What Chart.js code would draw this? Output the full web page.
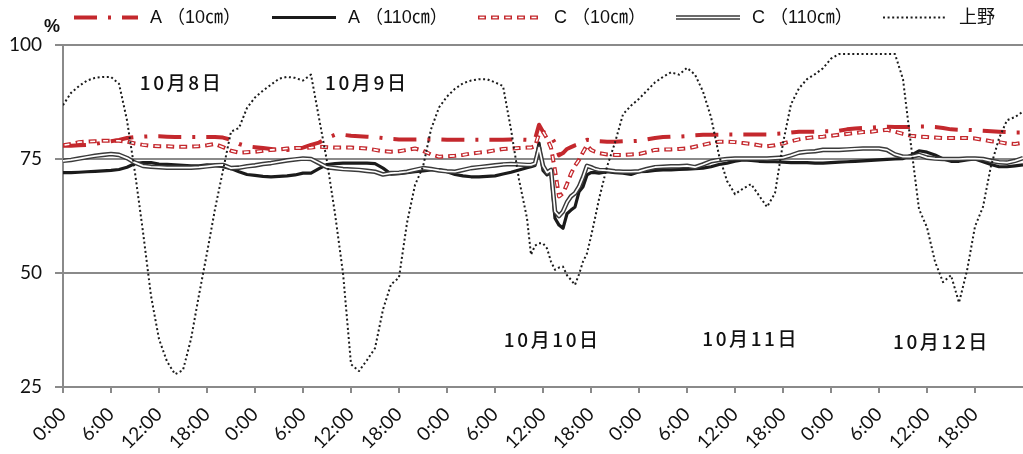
<!DOCTYPE html>
<html>
<head>
<meta charset="utf-8">
<script src="https://cdn.jsdelivr.net/npm/chart.js@4.4.1/dist/chart.umd.min.js"></script>
<style>
  html, body { margin: 0; padding: 0; background: #ffffff; }
  #wrap { width: 1023px; height: 454px; position: relative; }
</style>
</head>
<body>
<div id="wrap"><canvas id="chart" width="1023" height="454"></canvas></div>
<script>
// Elapsed hours from 10/8 0:00 (half-hour steps during the 10/10 shower)
const hours = [
  0,1,2,3,4,5,6,7,8,9,10,11,12,13,14,15,16,17,18,19,20,21,22,23,
  24,25,26,27,28,29,30,31,32,33,34,35,36,37,38,39,40,41,42,43,44,45,46,47,
  48,49,50,51,52,53,54,55,56,57,58,
  58.5,59,59.5,60,60.5,61,61.5,62,62.5,63,63.5,64,64.5,65,65.5,66,66.5,67,
  68,69,70,71,72,73,74,75,76,77,78,79,80,81,82,83,84,85,86,87,88,89,90,91,92,93,94,95,
  96,97,98,99,100,101,102,103,104,105,106,107,108,109,110,111,112,113,114,115,116,117,118,119,120
];

// Relative humidity (%)
const a10 = [
  77.9,77.9,78.0,78.1,78.3,78.6,78.9,79.2,79.6,79.8,79.9,80.0,80.0,79.9,79.8,79.8,79.8,79.8,79.8,79.8,79.7,79.2,78.3,77.8,
  77.6,77.4,77.2,77.0,77.0,77.1,77.5,78.1,78.6,79.6,80.3,80.3,80.1,80.0,79.9,79.8,79.6,79.4,79.3,79.3,79.3,79.3,79.3,79.3,
  79.2,79.2,79.2,79.2,79.2,79.2,79.2,79.2,79.3,79.3,79.2,
  79.3,79.3,82.5,81.0,80.5,80.0,78.5,75.8,76.3,77.2,77.6,78.0,78.3,78.8,79.2,79.1,79.0,78.9,
  78.8,78.8,78.9,78.9,79.0,79.3,79.6,79.8,79.9,79.9,80.0,80.2,80.3,80.3,80.3,80.4,80.4,80.4,80.4,80.4,80.4,80.5,80.6,80.8,81.0,81.0,81.0,81.1,
  81.1,81.2,81.5,81.7,81.8,81.9,82.0,82.1,82.0,82.0,82.0,82.1,82.1,82.0,81.8,81.5,81.4,81.4,81.3,81.2,81.1,81.0,80.9,80.8,80.8
];
const a110 = [
  72.0,72.0,72.1,72.2,72.3,72.4,72.5,72.7,73.2,74.0,74.2,74.2,73.9,73.8,73.7,73.6,73.5,73.5,73.7,73.6,73.3,72.9,72.2,71.6,
  71.4,71.2,71.1,71.2,71.3,71.5,71.9,71.9,72.9,73.8,74.0,74.1,74.1,74.1,74.1,74.0,73.0,71.7,71.8,72.0,72.2,72.4,72.6,72.7,
  72.2,71.6,71.3,71.1,71.1,71.2,71.3,71.7,72.1,72.6,73.1,
  73.3,73.6,78.5,72.5,71.5,72.0,62.0,60.5,59.8,63.0,63.8,64.5,67.8,68.9,71.5,72.0,72.0,71.9,
  72.2,72.0,71.9,71.6,72.2,72.3,72.5,72.6,72.6,72.7,72.8,72.9,73.0,73.3,73.8,74.1,74.5,74.8,74.7,74.5,74.4,74.4,74.3,74.2,74.2,74.2,74.1,74.1,
  74.2,74.3,74.4,74.5,74.6,74.7,74.8,74.9,75.0,75.1,75.8,76.8,76.5,75.9,75.0,74.5,74.5,74.8,75.0,74.4,73.8,73.3,73.3,73.5,73.7
];
const c10 = [
  78.0,78.3,78.7,78.8,78.9,79.0,79.0,79.0,78.8,78.4,78.1,77.9,77.8,77.8,77.7,77.7,77.7,77.8,78.0,78.3,77.6,76.8,76.4,76.5,
  76.6,76.8,77.0,77.1,77.3,77.4,77.4,77.5,77.7,77.6,77.5,77.5,77.5,77.4,77.3,77.0,76.7,76.6,76.7,77.0,77.3,76.8,76.0,75.5,
  75.6,75.7,75.9,76.2,76.4,76.6,76.9,77.2,77.3,77.4,77.5,
  77.5,77.8,80.5,81.0,79.5,77.5,72.5,66.8,67.5,69.5,71.8,73.5,74.8,76.5,78.0,77.0,76.6,76.3,
  76.0,75.9,75.9,76.0,76.1,76.5,77.0,77.1,77.1,77.2,77.3,77.7,78.1,78.5,78.8,78.8,78.7,78.5,78.3,78.0,77.8,78.0,78.4,78.9,79.3,79.6,79.8,79.9,
  80.1,80.3,80.5,80.7,80.9,81.0,81.2,81.4,81.0,80.5,80.1,79.9,79.8,79.7,79.6,79.6,79.6,79.6,79.5,79.2,78.9,78.7,78.4,78.3,78.6
];
const c110 = [
  74.6,74.8,75.1,75.4,75.7,75.9,76.1,75.9,75.2,74.2,73.5,73.3,73.2,73.1,73.1,73.1,73.1,73.2,73.4,73.6,73.7,73.0,73.1,73.4,
  73.6,73.9,74.1,74.4,74.7,74.9,75.1,75.0,74.1,73.2,73.0,72.8,72.7,72.6,72.4,72.2,71.6,71.9,72.0,72.2,72.6,73.0,72.8,72.5,
  72.3,72.2,72.6,73.0,73.2,73.4,73.6,73.8,73.9,73.8,73.7,
  73.7,74.0,77.5,73.5,72.0,72.6,63.5,62.5,63.5,65.5,66.8,67.5,68.9,71.0,73.5,73.2,72.8,72.6,
  72.5,72.3,72.2,72.2,72.3,72.8,73.2,73.3,73.4,73.4,73.5,73.2,73.8,74.5,74.8,75.0,75.1,75.1,75.1,75.1,75.1,75.2,75.3,75.8,76.4,76.6,76.7,77.0,
  77.0,77.0,77.1,77.2,77.3,77.3,77.3,77.0,76.0,75.5,75.5,75.9,75.3,75.1,75.0,75.0,75.0,75.1,75.1,75.0,74.6,74.3,74.2,74.6,75.2
];
const ueno = [
  86.8,89.5,91.0,92.2,92.8,93.0,93.0,91.5,83.5,72.0,59.0,45.0,35.5,30.6,27.8,28.7,35.5,45.2,54.4,64.0,72.5,81.0,81.8,86.2,
  88.5,90.0,91.3,92.6,93.0,92.8,92.2,93.5,84.0,74.5,63.0,50.0,30.0,28.5,30.9,33.5,42.0,47.5,49.0,61.0,69.3,73.3,81.5,86.3,
  88.7,90.4,91.6,92.2,92.5,92.5,91.8,91.0,81.5,70.5,62.0,
  54.0,56.0,56.5,56.5,55.4,52.5,50.7,51.2,51.4,49.5,48.5,47.4,49.7,52.5,54.3,58.0,62.0,66.2,
  73.3,78.6,84.8,86.7,88.2,90.0,91.8,93.0,94.0,93.5,95.0,93.5,89.8,84.2,75.8,70.2,67.3,68.5,69.5,67.0,64.5,67.5,78.5,87.0,90.5,92.5,93.6,94.9,
  97.0,98.0,98.0,98.0,98.0,98.0,98.0,98.0,98.0,92.5,78.0,64.0,60.0,52.5,48.0,49.5,43.5,50.5,60.2,64.5,73.5,79.5,83.5,84.2,85.4
];

const seriesNames = ['A （10㎝）', 'A （110㎝）', 'C （10㎝）', 'C （110㎝）', '上野'];
const tickLabels = [
  '0:00','6:00','12:00','18:00','0:00','6:00','12:00','18:00','0:00','6:00',
  '12:00','18:00','0:00','6:00','12:00','18:00','0:00','6:00','12:00','18:00'
];
const yTicks = [25, 50, 75, 100];
const dayLabels = ['10月8日', '10月9日', '10月10日', '10月11日', '10月12日'];

// Styling
const RED = '#c4282d';
const INK = '#1b1b1b';
const AXIS = '#8a8a8a';
const lineStyles = [
  { color: RED, width: 4, dash: [23, 11, 3, 11] },
  { color: INK, width: 3.2, dash: [] },
  { color: RED, width: 4, dash: [8, 5], inner: { color: '#ffffff', width: 1.6, dash: [5, 8], offset: -1.5 } },
  { color: '#3a3a3a', width: 4.6, dash: [], inner: { color: '#ffffff', width: 1.7, dash: [] } },
  { color: INK, width: 2, dash: [2, 2.6] }
];
// Where the day captions sit, in (hour, %) coordinates
const dayLabelAnchors = [[9.6, 91.8], [32.75, 91.8], [55.1, 35.3], [79.9, 35.6], [103.75, 35.0]];

const values = [a10, a110, c10, c110, ueno];
const datasets = values.map((vals, k) => ({
  label: seriesNames[k],
  data: hours.map((h, i) => ({ x: h, y: vals[i] })),
  borderColor: lineStyles[k].color,
  borderWidth: lineStyles[k].width,
  borderDash: lineStyles[k].dash,
  borderCapStyle: 'butt',
  borderJoinStyle: 'round',
  pointRadius: 0,
  pointHoverRadius: 0,
  tension: 0,
  fill: false,
  order: values.length - k,
  innerLine: lineStyles[k].inner || null
}));

// Second, thinner stroke along a series to give it a hollow / double-line look
const hollowLines = {
  id: 'hollowLines',
  afterDatasetDraw(chart, args) {
    const ds = chart.data.datasets[args.index];
    const inner = ds.innerLine;
    if (!inner) return;
    const pts = args.meta.data;
    const ctx = chart.ctx;
    const a = chart.chartArea;
    ctx.save();
    ctx.beginPath();
    ctx.rect(a.left, a.top - 5, a.right - a.left, a.bottom - a.top + 10);
    ctx.clip();
    ctx.beginPath();
    pts.forEach((p, i) => (i ? ctx.lineTo(p.x, p.y) : ctx.moveTo(p.x, p.y)));
    ctx.lineWidth = inner.width;
    ctx.strokeStyle = inner.color;
    ctx.setLineDash(inner.dash || []);
    ctx.lineDashOffset = inner.offset || 0;
    ctx.lineJoin = 'round';
    ctx.lineCap = 'butt';
    ctx.stroke();
    ctx.restore();
  }
};

// Legend row, unit mark and day captions
const decorations = {
  id: 'decorations',
  afterDraw(chart) {
    const ctx = chart.ctx;
    const starts = [74, 272, 478, 676, 883];
    const sampleLen = 64, y = 17.5;
    chart.data.datasets.forEach((ds, k) => {
      const x0 = starts[k], x1 = x0 + sampleLen;
      ctx.save();
      ctx.lineCap = 'butt';
      ctx.beginPath();
      ctx.moveTo(x0, y);
      ctx.lineTo(x1, y);
      ctx.strokeStyle = ds.borderColor;
      ctx.lineWidth = ds.borderWidth;
      ctx.setLineDash(ds.borderDash);
      ctx.stroke();
      if (ds.innerLine) {
        ctx.beginPath();
        ctx.moveTo(x0, y);
        ctx.lineTo(x1, y);
        ctx.strokeStyle = ds.innerLine.color;
        ctx.lineWidth = ds.innerLine.width;
        ctx.setLineDash(ds.innerLine.dash || []);
        ctx.lineDashOffset = ds.innerLine.offset || 0;
        ctx.stroke();
      }
      ctx.setLineDash([]);
      ctx.fillStyle = '#111111';
      ctx.font = '18px "Liberation Sans", "Noto Sans CJK JP", sans-serif';
      ctx.textAlign = 'left';
      ctx.textBaseline = 'middle';
      ctx.fillText(ds.label, x1 + 12, y + 1);
      ctx.restore();
    });

    ctx.save();
    ctx.fillStyle = '#111111';
    ctx.font = 'bold 18px "Liberation Sans", sans-serif';
    ctx.textAlign = 'center';
    ctx.textBaseline = 'middle';
    ctx.fillText('%', 52, 27);

    const xs = chart.scales.x, ys = chart.scales.y;
    ctx.font = '500 19px "Noto Sans CJK JP", sans-serif';
    ctx.textAlign = 'left';
    dayLabels.forEach((txt, k) => {
      let px = xs.getPixelForValue(dayLabelAnchors[k][0]);
      const py = ys.getPixelForValue(dayLabelAnchors[k][1]);
      for (const ch of txt) {
        ctx.fillText(ch, px, py);
        px += ctx.measureText(ch).width + 2.6;
      }
    });
    ctx.restore();
  }
};

function draw() {
  new Chart(document.getElementById('chart'), {
    type: 'line',
    data: { datasets },
    plugins: [hollowLines, decorations],
    options: {
      responsive: false,
      animation: false,
      devicePixelRatio: 1,
      layout: { padding: { top: 45, left: 0, right: 0, bottom: 0 } },
      plugins: { legend: { display: false }, tooltip: { enabled: false } },
      events: [],
      scales: {
        x: {
          type: 'linear',
          min: 0,
          max: 120,
          afterBuildTicks(axis) {
            axis.ticks = tickLabels.map((_, i) => ({ value: i * 6 }));
          },
          afterFit(axis) { axis.height = 67; },
          ticks: {
            autoSkip: false,
            minRotation: 45,
            maxRotation: 45,
            padding: 10,
            color: '#111111',
            font: { family: 'Lato', size: 19 },
            callback: (v, i) => tickLabels[i]
          },
          grid: { drawOnChartArea: false, drawTicks: true, tickLength: 6, color: AXIS, lineWidth: 2 },
          border: { display: true, color: AXIS, width: 2 }
        },
        y: {
          min: 25,
          max: 100,
          afterBuildTicks(axis) {
            axis.ticks = yTicks.map(v => ({ value: v }));
          },
          afterFit(axis) { axis.width = 63; },
          ticks: {
            padding: 13,
            color: '#111111',
            font: { family: 'Lato', size: 19 }
          },
          grid: { color: AXIS, lineWidth: 2, tickLength: 8, drawTicks: true },
          border: { display: true, color: AXIS, width: 2 }
        }
      }
    }
  });
}

const fontLoads = [
  '18px Lato', '19px Lato', '18px "Liberation Sans"', '18px "Noto Sans CJK JP"', '500 19px "Noto Sans CJK JP"'
].map(f => document.fonts.load(f, '0:00 A上野10月日㎝'));
Promise.all(fontLoads).then(draw, draw);
</script>
</body>
</html>
